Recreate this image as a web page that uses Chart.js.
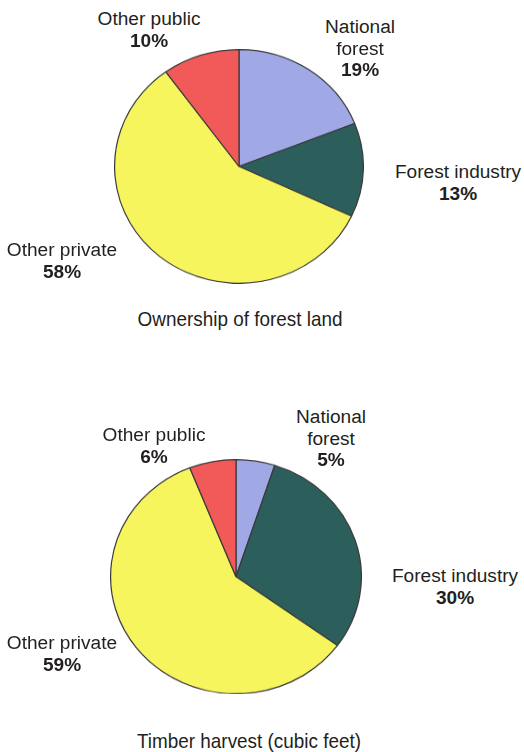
<!DOCTYPE html>
<html>
<head>
<meta charset="utf-8">
<script src="https://cdn.jsdelivr.net/npm/chart.js@4/dist/chart.umd.min.js"></script>
<style>
  html, body { margin: 0; padding: 0; background: #ffffff; }
  #page { position: relative; width: 524px; height: 752px; overflow: hidden;
          font-family: "Liberation Sans", Arial, Helvetica, sans-serif; color: #231f20; }
  .pie { position: absolute; transform-origin: 0 0; }
  .lbl { position: absolute; transform: translate(-50%, -50%) scaleX(1.06);
         white-space: nowrap; font-size: 18px; line-height: 1; }
  .pct { font-weight: bold; }
  .ttl { font-size: 21px; transform: translate(-50%, -50%) scaleX(0.9); }
</style>
</head>
<body>
<div id="page">
  <div class="pie" id="wrapTop"><canvas id="ownership" width="250" height="250"></canvas></div>
  <div class="pie" id="wrapBottom"><canvas id="harvest" width="252" height="252"></canvas></div>
</div>
<script>
const categories = ["National forest", "Forest industry", "Other private", "Other public"];
const ownershipValues = [19, 13, 58, 10];
const harvestValues = [5, 30, 59, 6];
const chartTitles = ["Ownership of forest land", "Timber harvest (cubic feet)"];
const sliceColors = ["#a0a8e6", "#2c5e5c", "#f7f55e", "#f25a5a"];

// label placement per category: x centre, y of first line
const ownershipLabelPos = [
  { x: 360, y: 27, lines: ["National", "forest"] },
  { x: 458, y: 172, lines: ["Forest industry"] },
  { x: 62, y: 250, lines: ["Other private"] },
  { x: 149, y: 19, lines: ["Other public"] },
];
const harvestLabelPos = [
  { x: 331, y: 417, lines: ["National", "forest"] },
  { x: 455, y: 576, lines: ["Forest industry"] },
  { x: 62, y: 643, lines: ["Other private"] },
  { x: 154, y: 435, lines: ["Other public"] },
];

const page = document.getElementById("page");

function addText(txt, x, y, cls) {
  const d = document.createElement("div");
  d.className = "lbl " + (cls || "");
  d.textContent = txt;
  d.style.left = x + "px";
  d.style.top = y + "px";
  page.appendChild(d);
}

function pieChart(canvasId, wrapId, values, labelPos, title, cx, cy, rx, ry, titleX, titleY) {
  const size = document.getElementById(canvasId).width;
  const wrap = document.getElementById(wrapId);
  wrap.style.left = (cx - size / 2) + "px";
  wrap.style.top = (cy - (size / 2) * ry / rx) + "px";
  wrap.style.transform = "scale(1," + (ry / rx) + ")";

  new Chart(document.getElementById(canvasId), {
    type: "pie",
    data: {
      labels: categories,
      datasets: [{
        data: values,
        backgroundColor: sliceColors,
        borderColor: "#3a3a3a",
        borderWidth: 1.2,
      }],
    },
    options: {
      responsive: false,
      animation: false,
      layout: { padding: 0 },
      plugins: { legend: { display: false }, tooltip: { enabled: false } },
    },
  });

  labelPos.forEach((p, i) => {
    p.lines.forEach((ln, k) => addText(ln, p.x, p.y + k * 21.5));
    addText(values[i] + "%", p.x, p.y + p.lines.length * 21.5, "pct");
  });
  addText(title, titleX, titleY, "ttl");
}

pieChart("ownership", "wrapTop", ownershipValues, ownershipLabelPos, chartTitles[0], 238.5, 166, 123.5, 116, 240, 318);
pieChart("harvest", "wrapBottom", harvestValues, harvestLabelPos, chartTitles[1], 235.5, 577, 125.3, 117, 249, 740);
</script>
</body>
</html>
